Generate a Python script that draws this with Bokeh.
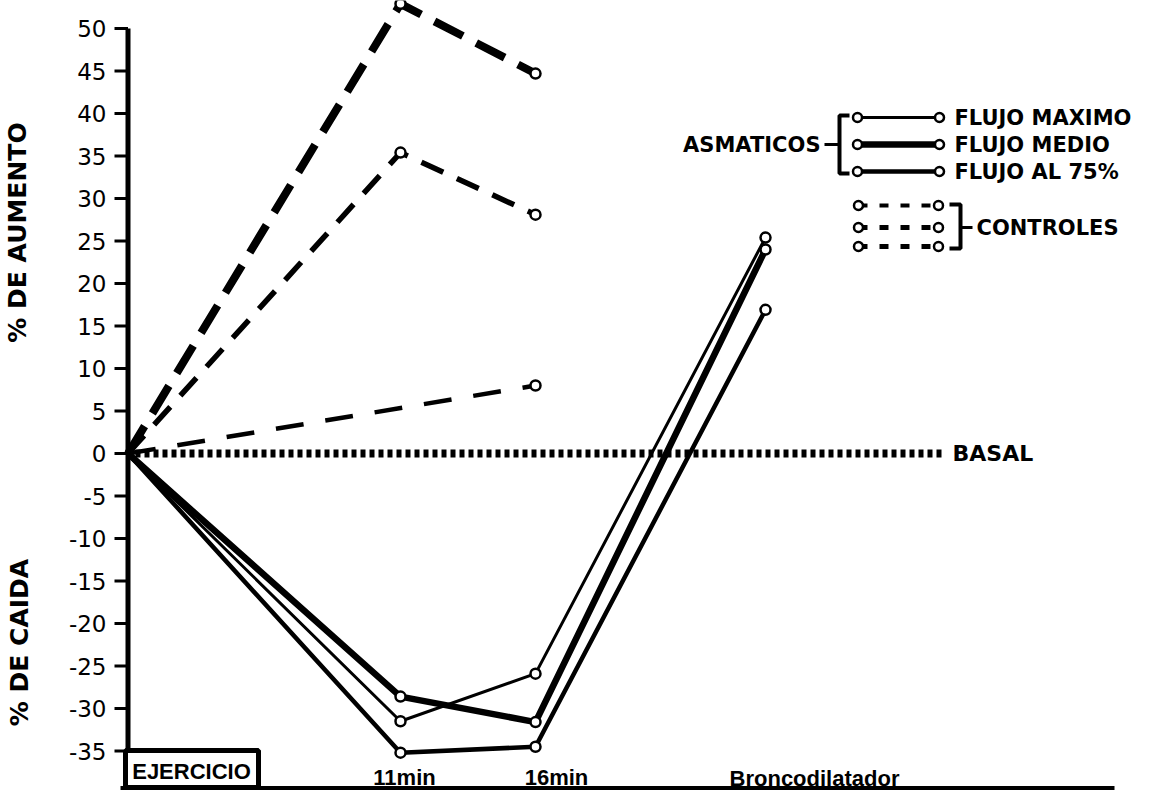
import numpy as np
from bokeh.plotting import figure
from bokeh.models import Range1d
from bokeh.embed import file_html
from bokeh.resources import INLINE
from bokeh.core.properties import value

# ---------------- data ----------------
stage_labels = ["EJERCICIO", "11min", "16min", "Broncodilatador"]
stage_pos = [0.0, 10.9, 16.3, 25.5]          # horizontal position of each stage

asma_names = ["FLUJO MAXIMO", "FLUJO MEDIO", "FLUJO AL 75%"]
asma_maximo = [0.0, -31.5, -25.9, 25.4]
asma_medio = [0.0, -28.6, -31.6, 24.0]
asma_75 = [0.0, -35.2, -34.5, 16.9]

ctrl_a = [0.0, 52.9, 44.7]
ctrl_b = [0.0, 35.4, 28.1]
ctrl_c = [0.0, None, 8.0]

basal_value = 0.0

y_ticks = [50, 45, 40, 35, 30, 25, 20, 15, 10, 5, 0, -5, -10, -15, -20, -25, -30, -35]
y_tick_labels = ["50", "45", "40", "35", "30", "25", "20", "15", "10", "5", "0",
                 "-5", "-10", "-15", "-20", "-25", "-30", "-35"]

# ---------------- layout helpers (page pixels -> data) ----------------
X_ORIGIN_PAGE = 135.5
PX_PER_X = 25.0
Y0_PAGE = 461.0
PX_PER_Y = 8.5


def dx(px):
    return (px - X_ORIGIN_PAGE) / PX_PER_X


def dy(py):
    return (Y0_PAGE - py) / PX_PER_Y


W, H = 1150, 790
p = figure(width=W, height=H, output_backend="svg", toolbar_location=None,
           x_axis_type=None, y_axis_type=None,
           min_border_left=0, min_border_right=0, min_border_top=0, min_border_bottom=0,
           x_range=Range1d(dx(8), dx(8 + W)), y_range=Range1d(dy(8 + H), dy(8)))
p.outline_line_color = None
p.background_fill_color = "white"
p.border_fill_color = "white"

TXT = dict(text_color="black")

# ---------------- axes (drawn by hand) ----------------
p.line([stage_pos[0], stage_pos[0]], [dy(798), y_ticks[0]], line_width=5, color="black")
p.line([dx(128), dx(1122)], [dy(796), dy(796)], line_width=5, color="black")
p.segment(x0=[dx(122)] * len(y_ticks), x1=[stage_pos[0]] * len(y_ticks),
          y0=y_ticks, y1=y_ticks, line_width=3, color="black")
p.text(x=[dx(114)] * len(y_ticks), y=y_ticks, text=y_tick_labels,
       text_font=value("DejaVu Sans"), text_font_size="23px",
       text_align="right", text_baseline="middle", **TXT)

# axis titles
p.text(x=[dx(25), dx(27)], y=[dy(240), dy(650)], text=["% DE AUMENTO", "% DE CAIDA"],
       angle=np.pi / 2, text_font=value("DejaVu Sans"), text_font_style="bold",
       text_font_size="25px", text_align="center", text_baseline="middle", **TXT)

# basal dotted line
p.line([stage_pos[0] + 0.3, dx(952)], [basal_value, basal_value], line_width=8,
       line_dash="5 4", color="black")
p.text(x=[dx(960)], y=[basal_value], text=["BASAL"], text_font=value("DejaVu Sans"),
       text_font_style="bold", text_font_size="22px", text_align="left",
       text_baseline="middle", **TXT)

# controls (dashed)
ctrl_styles = [(8, "32 15"), (5.5, "24 15"), (4.5, "28 22")]
for vals, (lw, dash) in zip([ctrl_a, ctrl_b, ctrl_c], ctrl_styles):
    xs = [stage_pos[i] for i, v in enumerate(vals) if v is not None]
    ys = [v for v in vals if v is not None]
    p.line(xs, ys, line_width=lw, line_dash=dash, color="black", line_join="round")
    p.scatter(xs[1:], ys[1:], marker="circle", size=10, fill_color="white",
              line_color="black", line_width=2.5)

# asthmatics (solid)
asma_widths = [3, 6.5, 4.5]
for vals, lw in zip([asma_maximo, asma_medio, asma_75], asma_widths):
    p.line(stage_pos, vals, line_width=lw, color="black", line_join="round")
    p.scatter(stage_pos[1:], vals[1:], marker="circle", size=10, fill_color="white",
              line_color="black", line_width=2.5)

# ---------------- legend (drawn by hand) ----------------
LEG = dict(text_font=value("DejaVu Sans"), text_font_style="bold",
           text_font_size="21px", text_baseline="middle", **TXT)
asma_rows = [125, 152, 179]
for py, lw in zip(asma_rows, asma_widths):
    p.line([dx(865), dx(947)], [dy(py), dy(py)], line_width=lw, color="black")
    p.scatter([dx(865), dx(947)], [dy(py), dy(py)], marker="circle", size=9,
              fill_color="white", line_color="black", line_width=2.5)
p.text(x=[dx(962)] * 3, y=[dy(r) for r in asma_rows], text=asma_names,
       text_align="left", **LEG)
p.line([dx(857), dx(847), dx(847), dx(857)], [dy(123), dy(123), dy(181), dy(181)],
       line_width=4, color="black")
p.line([dx(832), dx(847)], [dy(152), dy(152)], line_width=3, color="black")
p.text(x=[dx(828)], y=[dy(152)], text=["ASMATICOS"], text_align="right", **LEG)

ctrl_rows = [213, 235, 254]
for py, lw in zip(ctrl_rows, [4, 5, 5]):
    p.line([dx(866), dx(946)], [dy(py), dy(py)], line_width=lw, line_dash="9 12",
           color="black")
    p.scatter([dx(866), dx(946)], [dy(py), dy(py)], marker="circle", size=9,
              fill_color="white", line_color="black", line_width=2.5)
p.line([dx(957), dx(968), dx(968), dx(957)], [dy(212), dy(212), dy(256), dy(256)],
       line_width=4, color="black")
p.line([dx(968), dx(980)], [dy(235), dy(235)], line_width=3, color="black")
p.text(x=[dx(984)], y=[dy(235)], text=["CONTROLES"], text_align="left", **LEG)

# ---------------- stage labels along the bottom ----------------
p.quad(left=[dx(133)], right=[dx(266)], bottom=[dy(795)], top=[dy(758)],
       fill_color="white", line_color="black", line_width=5)
p.text(x=[dx(199), dx(412), dx(564), dx(822)], y=[dy(779), dy(785), dy(785), dy(786)],
       text=stage_labels, text_font=value("Liberation Sans"), text_font_style="bold",
       text_font_size="22px", text_align="center", text_baseline="middle", **TXT)

open("out.html", "w").write(file_html(p, INLINE))
